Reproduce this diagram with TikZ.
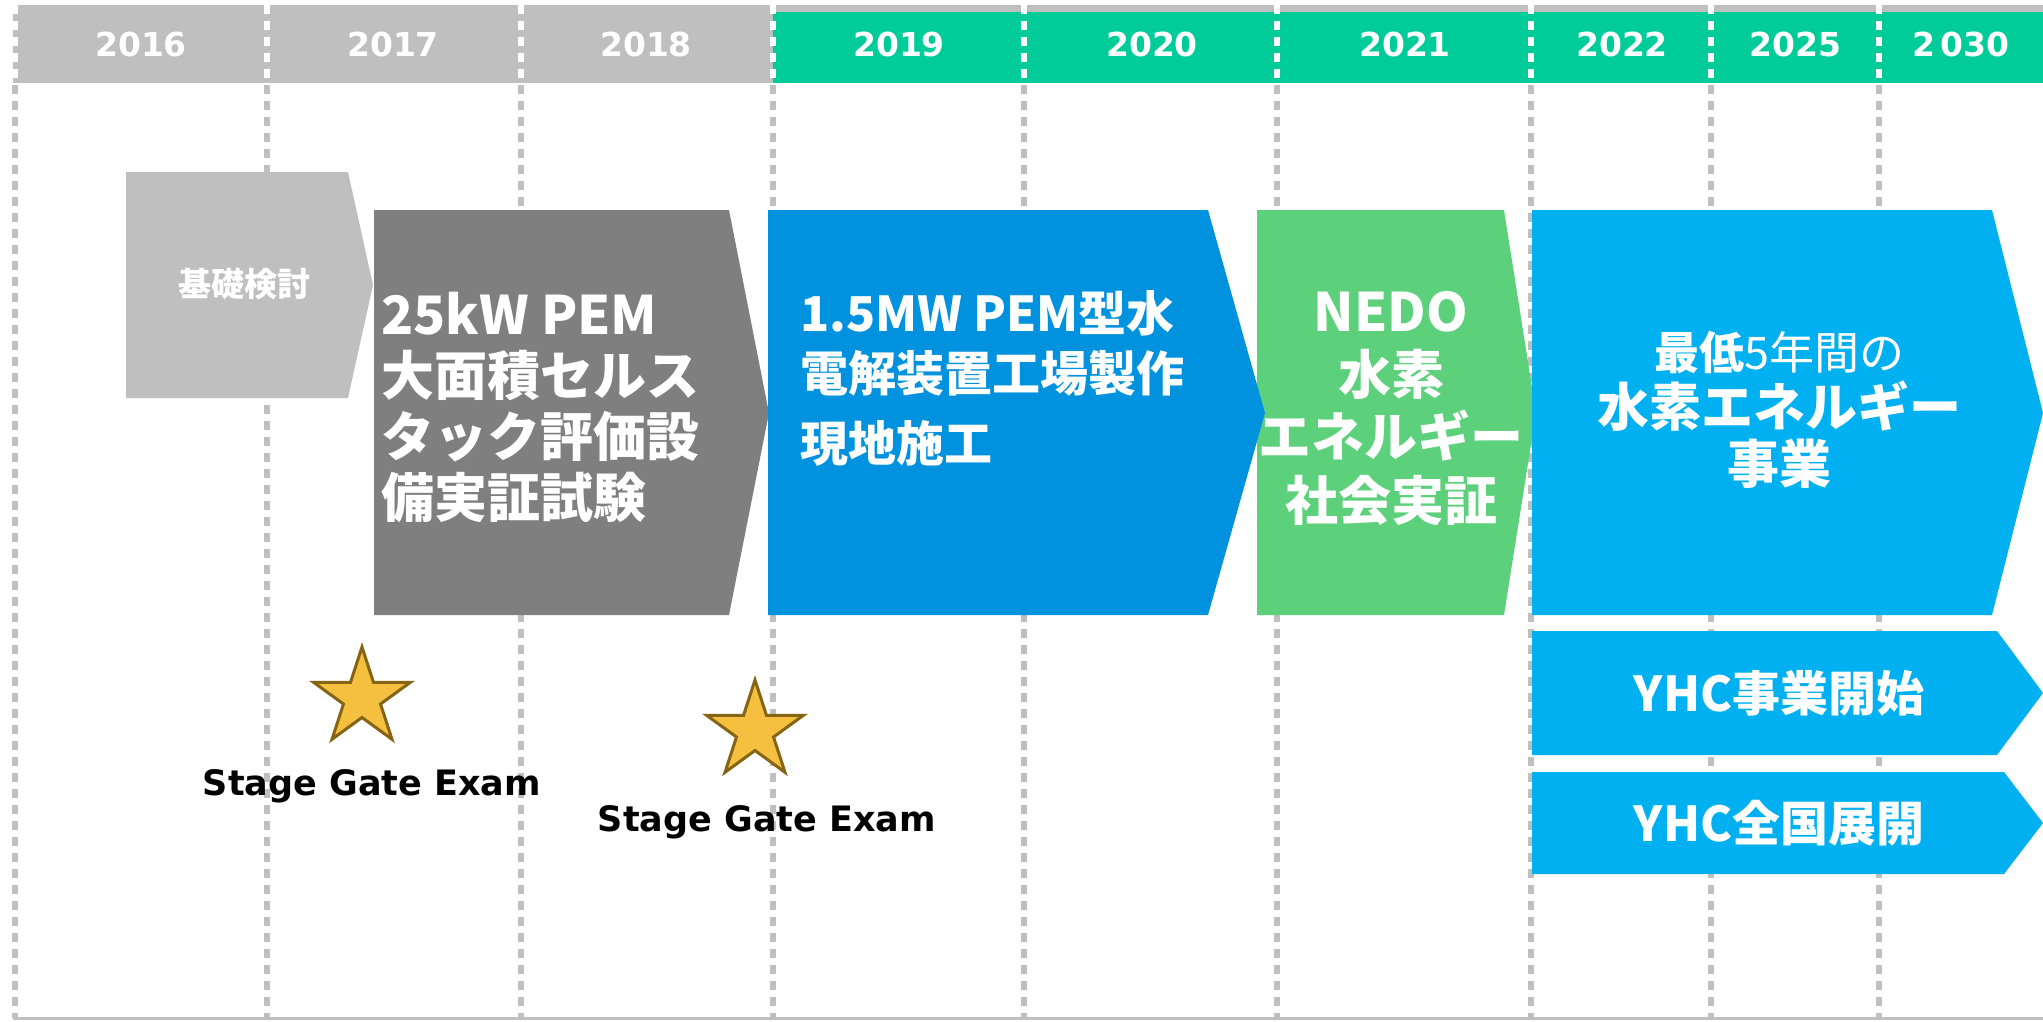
\documentclass[tikz,border=0pt]{standalone}
\usepackage{fontspec}
\usetikzlibrary{shapes.geometric}
\setmainfont{Noto Sans CJK JP}
\newfontfamily\dvs{DejaVu Sans}
\definecolor{lgray}{HTML}{BFBFBF}
\definecolor{dgray}{HTML}{7F7F7F}
\definecolor{hgreen}{HTML}{00CC99}
\definecolor{blueA}{RGB}{0,146,222}
\definecolor{boxgreen}{RGB}{92,208,122}
\definecolor{lblue}{HTML}{00B0F0}
\definecolor{starfill}{RGB}{245,192,64}
\definecolor{starline}{RGB}{133,100,20}
\tikzset{
  vline/.style={draw=lgray, line width=6pt, dash pattern=on 9pt off 7pt},
  vlinew/.style={draw=white, line width=6pt, dash pattern=on 9pt off 7pt},
  yearlbl/.style={text=white, font=\dvs\bfseries\fontsize{33}{40}\selectfont, inner sep=0pt},
  boxtxt/.style={text=white, inner sep=0pt},
  gatestar/.style={star, star points=5, star point ratio=2.618, minimum size=102pt, inner sep=0pt, fill=starfill, draw=starline, line width=3pt},
  gatelbl/.style={text=black, font=\dvs\bfseries\fontsize{35}{40}\selectfont, inner sep=0pt}
}
\begin{document}
\begin{tikzpicture}[x=1pt,y=-1pt]
\useasboundingbox (0,0) rectangle (2043,1021);
\fill[white] (0,0) rectangle (2043,1021);
% vertical dashed grid lines
\foreach \xx in {15,267,521,773,1024,1277,1531,1711,1879}{
  \draw[vline] (\xx,5) -- (\xx,1018);
}
% bottom line
\draw[lgray, line width=3pt] (13,1018) -- (2043,1018);
% header bands
\fill[lgray] (13,5) rectangle (2043,83);
\fill[hgreen] (773,12) rectangle (2043,83);
\foreach \xx in {15,267,521,773,1024,1277,1531,1711,1879}{
  \draw[vlinew] (\xx,5) -- (\xx,83);
}
% year labels
\node[yearlbl] (y2016) at (141,44) {2016};
\node[yearlbl] (y2017) at (393,44) {2017};
\node[yearlbl] (y2018) at (646,44) {2018};
\node[yearlbl] (y2019) at (899,44) {2019};
\node[yearlbl] (y2020) at (1152,44) {2020};
\node[yearlbl] (y2021) at (1405,44) {2021};
\node[yearlbl] (y2022) at (1622,44) {2022};
\node[yearlbl] (y2025) at (1795,44) {2025};
\node[yearlbl] (y2030) at (1961,44) {2\kern5pt030};
% chevrons
\fill[lgray] (126,172) -- (348,172) -- (373,285) -- (348,398) -- (126,398) -- cycle;
\fill[dgray] (374,210) -- (729,210) -- (769,413) -- (729,615) -- (374,615) -- cycle;
\fill[boxgreen] (1257,210) -- (1504,210) -- (1536,413) -- (1504,615) -- (1257,615) -- cycle;
\fill[blueA] (768,210) -- (1208,210) -- (1265,413) -- (1208,615) -- (768,615) -- cycle;
\fill[lblue] (1532,210) -- (1992,210) -- (2043,413) -- (1992,615) -- (1532,615) -- cycle;
\fill[lblue] (1532,631) -- (1997,631) -- (2043,693) -- (1997,755) -- (1532,755) -- cycle;
\fill[lblue] (1532,772) -- (2004,772) -- (2043,823) -- (2004,874) -- (1532,874) -- cycle;
% box texts
\node[boxtxt, font=\bfseries\fontsize{33}{38}\selectfont] (t1) at (244,284) {基礎検討};
\node[boxtxt, anchor=west, align=left, font=\bfseries\fontsize{53}{61}\selectfont] (t2) at (381,407)
  {25kW PEM\\大面積セルス\\タック評価設\\備実証試験};
\node[boxtxt, anchor=west, align=left, font=\bfseries\fontsize{48}{60}\selectfont] (t3) at (800,378)
  {1.5MW PEM型水\\電解装置工場製作\\[10pt]現地施工};
\node[boxtxt, align=center, font=\bfseries\fontsize{53}{63}\selectfont] (t4) at (1391,408)
  {NEDO\\水素\\エネルギー\\社会実証};
\node[boxtxt, align=center, font=\bfseries\fontsize{52}{57}\selectfont] (t5) at (1779,410)
  {{\fontsize{45}{57}\selectfont 最低\mdseries 5年間の}\\水素エネルギー\\事業};
\node[boxtxt, font=\bfseries\fontsize{48}{56}\selectfont] (t6) at (1779,693) {YHC事業開始};
\node[boxtxt, font=\bfseries\fontsize{48}{56}\selectfont] (t7) at (1779,823) {YHC全国展開};
% stage gates
\node[gatestar] (s1) at (362,698) {};
\node[gatestar] (s2) at (755,731) {};
\node[gatelbl] (g1) at (372,786) {Stage Gate Exam};
\node[gatelbl] (g2) at (767,822) {Stage Gate Exam};
\end{tikzpicture}
\end{document}
